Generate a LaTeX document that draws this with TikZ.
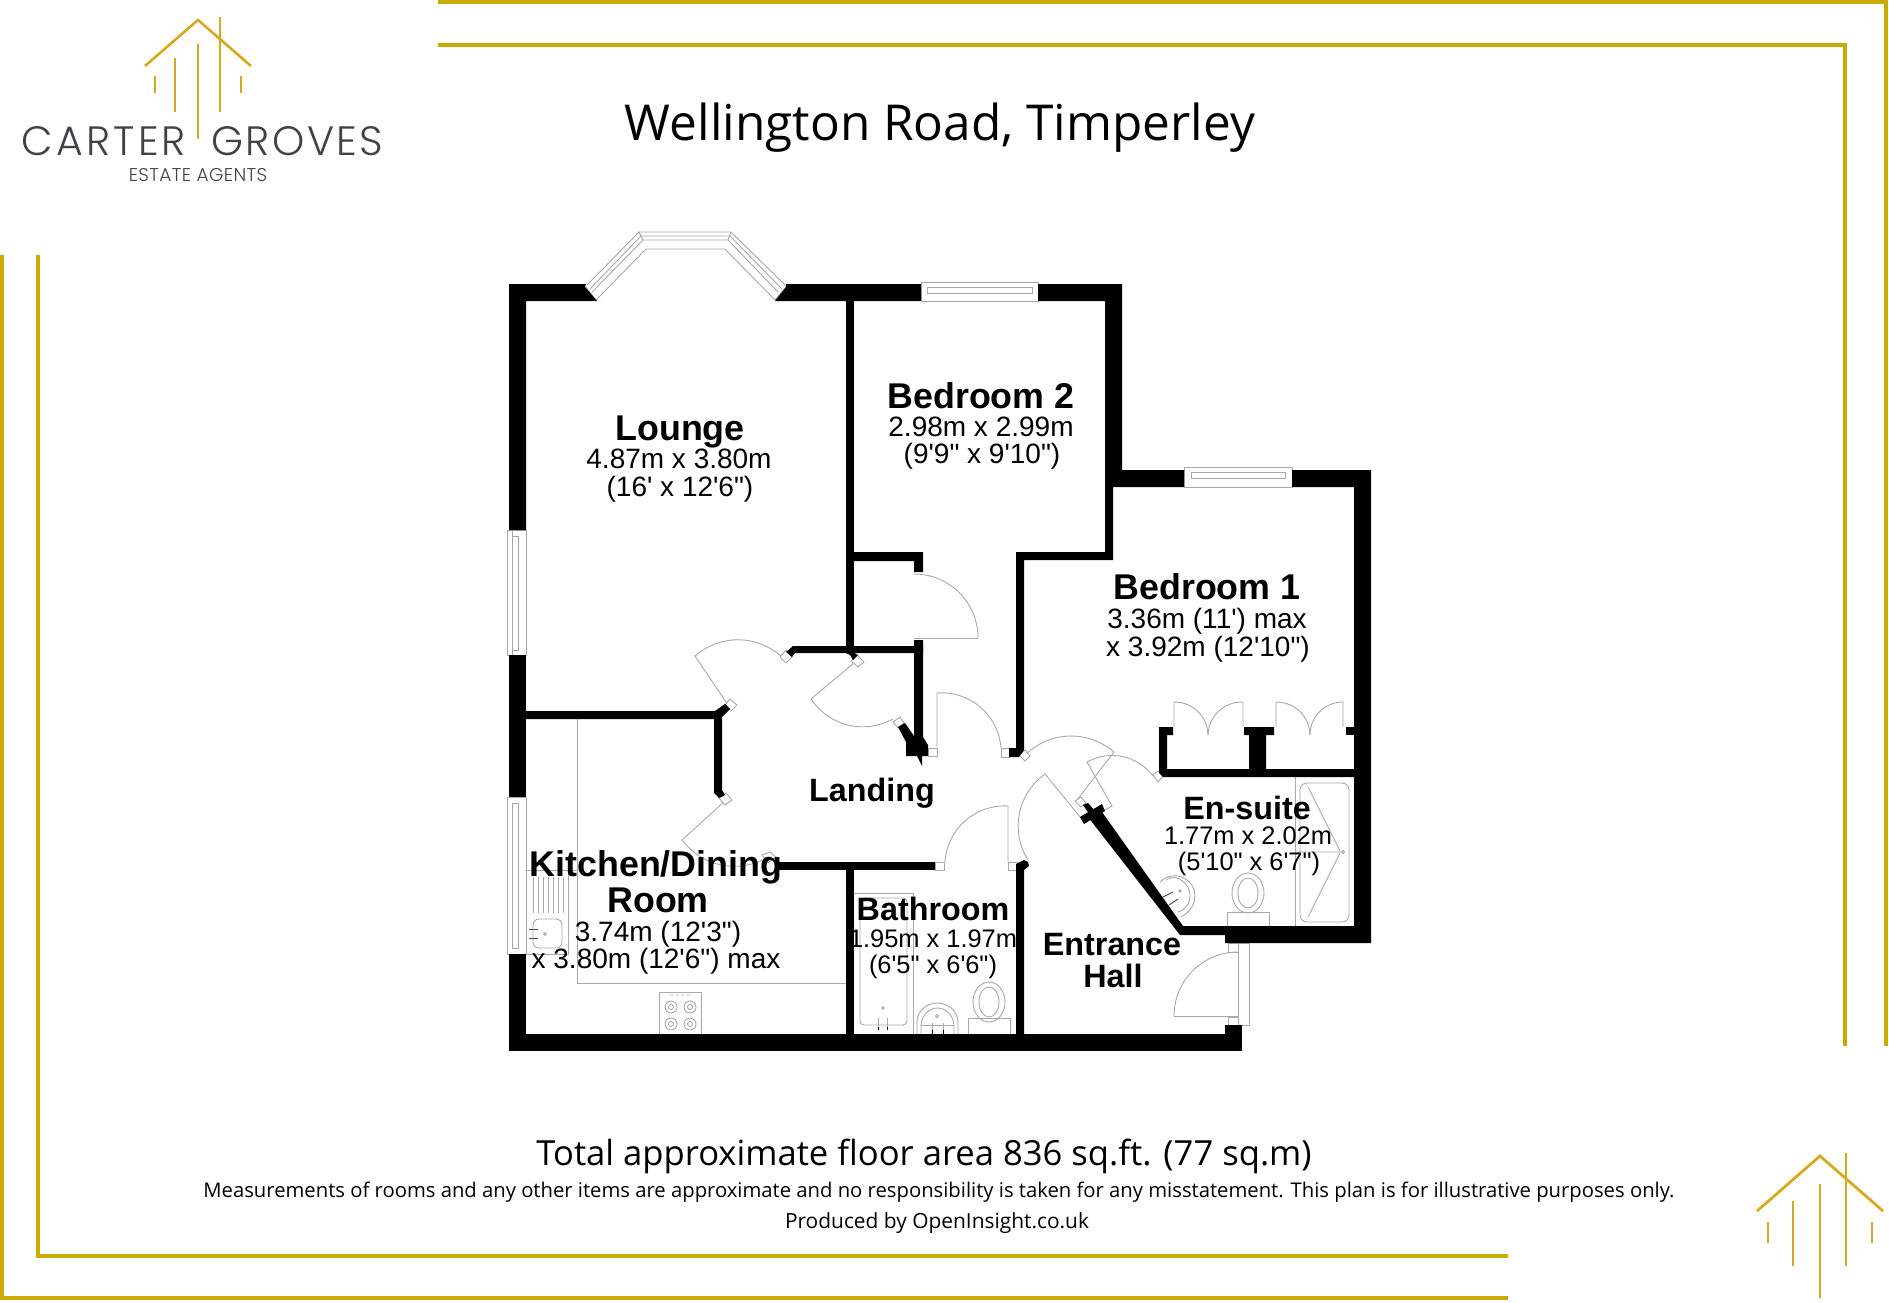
\documentclass[tikz,border=0pt]{standalone}
\usepackage{fontspec}
\newfontfamily\planfont{Liberation Sans}
\newfontfamily\headfont{Open Sans}
\newfontfamily\logofont[LetterSpace=8]{Poppins Light}
\newfontfamily\logofontb[LetterSpace=6]{Poppins Light}
\newfontfamily\logosmall[LetterSpace=2]{Poppins Light}
\definecolor{framegold}{HTML}{C9AB06}
\definecolor{logogold}{HTML}{D6A920}
\definecolor{logotext}{HTML}{414146}
\definecolor{fixture}{HTML}{A8A8A8}
\tikzset{
  frameline/.style={framegold,line width=4.4pt},
  roofline/.style={logogold,line width=2.6pt},
  wall/.style={fill=black,draw=none},
  thin/.style={fixture,line width=0.9pt},
  jamb/.style={thin,fill=white},
  roomname/.style={inner sep=0pt,anchor=base,font=\planfont\bfseries\fontsize{35.8}{36}\selectfont},
  roomdim/.style={inner sep=0pt,anchor=base,font=\planfont\fontsize{28}{28}\selectfont},
  smallname/.style={inner sep=0pt,anchor=base,font=\planfont\bfseries\fontsize{32.3}{33}\selectfont},
  smalldim/.style={inner sep=0pt,anchor=base,font=\planfont\fontsize{25.4}{26}\selectfont},
  foot/.style={inner sep=0pt,anchor=base},
}
\begin{document}
\begin{tikzpicture}[x=1pt,y=-1pt]
\useasboundingbox (0,0) rectangle (1889,1303);
% gold frame
\draw[frameline] (438,2) -- (1886,2) -- (1886,1046);
\draw[frameline] (438,45) -- (1845,45) -- (1845,1046);
\draw[frameline] (2,255) -- (2,1298) -- (1508,1298);
\draw[frameline] (38,255) -- (38,1256) -- (1508,1256);
% logo
\draw[roofline] (145,66) -- (198,20) -- (251,66);
\draw[roofline] (155,76) -- (155,93);
\draw[roofline] (175,58) -- (175,112);
\draw[roofline] (198,44) -- (198,139);
\draw[roofline] (220,17) -- (220,112);
\draw[roofline] (241,76) -- (241,93);
\node[inner sep=0pt,anchor=base west,text=logotext,font=\logofont\fontsize{41}{41}\selectfont] (carter) at (21,155) {CARTER};
\node[inner sep=0pt,anchor=base west,text=logotext,font=\logofontb\fontsize{41}{41}\selectfont] (groves) at (211,155) {GROVES};
\node[inner sep=0pt,anchor=base,text=logotext,font=\logosmall\fontsize{18.5}{19}\selectfont] (estate) at (198,181) {ESTATE AGENTS};
% small logo
\draw[roofline,line width=2.8pt] (1757,1211) -- (1820,1156) -- (1883,1211);
\draw[roofline,line width=2.8pt] (1768,1222) -- (1768,1243);
\draw[roofline,line width=2.8pt] (1793,1201) -- (1793,1266);
\draw[roofline,line width=2.8pt] (1820,1184) -- (1820,1298);
\draw[roofline,line width=2.8pt] (1846,1153) -- (1846,1266);
\draw[roofline,line width=2.8pt] (1872,1222) -- (1872,1243);
% headings
\node[foot,font=\headfont\fontsize{49.5}{50}\selectfont] (title) at (940,140) {Wellington Road, Timperley};
\node[foot,font=\headfont\fontsize{34.6}{35}\selectfont] (total) at (924,1165) {Total approximate floor area 836 sq.ft. (77 sq.m)};
\node[foot,font=\headfont\fontsize{20.25}{21}\selectfont] (disc) at (939,1197) {Measurements of rooms and any other items are approximate and no responsibility is taken for any misstatement. This plan is for illustrative purposes only.};
\node[foot,font=\headfont\fontsize{20.9}{21}\selectfont] (prod) at (937,1228) {Produced by OpenInsight.co.uk};
% bay window
\draw[thin] (587,285) -- (639,232) -- (731,232) -- (786,286);
\draw[thin] (590,289) -- (641,236) -- (730,236) -- (782,289);
\draw[thin] (592,292) -- (643,240) -- (728,240) -- (778,292);
\draw[thin] (596,300) -- (646,249) -- (725,249) -- (775,300);
\draw[thin] (586,287) -- (596,300) (786,287) -- (775,300);
\draw[thin] (639,232) -- (643,240) (731,232) -- (728,240);
% flat windows
\draw[thin] (507,530) rectangle (526,655);
\draw[thin] (512,536) rectangle (518,650);
\draw[thin] (507,530) -- (507,655) (512,530) -- (512,655);
\draw[thin] (507,797) rectangle (526,954);
\draw[thin] (512,803) rectangle (518,948);
\draw[thin] (921,282) rectangle (1038,301);
\draw[thin] (927,287) rectangle (1032,293);
\draw[thin] (1184,467) rectangle (1292,487);
\draw[thin] (1191,472) rectangle (1285,478);
\draw[thin] (1238,943) rectangle (1249,1025);
\draw[jamb] (1228,943) rectangle (1238,952);
\draw[jamb] (1228,1017) rectangle (1238,1025);
% kitchen fittings
\draw[thin] (577,719) -- (577,983) -- (846,983);
\draw[thin] (526,870) -- (577,870);
\draw[thin] (568,870) -- (568,954) -- (526,954);
\foreach \lx in {533,538,543,548,553,558,563} \draw[thin] (\lx,877) -- (\lx,913);
\draw[thin,rounded corners=6pt] (533,919) rectangle (562,948);
\draw[black!70,line width=1pt] (529,929) -- (538,929) (529,938) -- (538,938);
\draw[thin] (545,934) circle (1.5);
\draw[thin] (659,1034) -- (659,992) -- (701,992) -- (701,1034);
\foreach \bx/\by in {671/1007,690/1007,671/1024,690/1024} {
  \draw[thin] (\bx,\by) circle (6);
  \draw[thin] (\bx,\by) circle (2.5);
}
\foreach \dx in {672,677,683,688} \fill[fixture] (\dx,995) circle (0.9);
% bathroom fittings
\draw[thin] (854,893) -- (913,893) -- (913,1034);
\draw[thin,rounded corners=4pt] (860,1025) -- (860,898) -- (907,898) -- (907,1025) -- cycle;
\draw[thin] (883,1008) circle (1.5);
\draw[thin] (878,1018) -- (878,1027) (887,1018) -- (887,1027);
\draw[black,line width=1pt] (878,1027) -- (878,1030) (887,1027) -- (887,1030);
\draw[thin] (917,1034) -- (917,1022) .. controls (917,1010) and (928,1003) .. (937,1003) .. controls (947,1003) and (958,1010) .. (958,1022) -- (958,1034);
\draw[thin] (921,1034) -- (921,1025) .. controls (922,1014) and (930,1008) .. (937,1008) .. controls (945,1008) and (953,1014) .. (954,1025) -- (954,1034);
\draw[thin] (921,1025) -- (954,1025);
\draw[thin] (932,1023) -- (932,1030) (943,1023) -- (943,1030);
\draw[black,line width=1pt] (932,1030) -- (932,1034) (943,1030) -- (943,1034);
\draw[thin] (937,1016) circle (1.5);
\draw[thin] (968,1034) -- (968,1018) -- (1010,1018) -- (1010,1034);
\draw[thin] (989,1002) ellipse (16 and 20);
\draw[thin] (989,1002) ellipse (10 and 15);
% en-suite fittings
\draw[thin] (1227,926) -- (1227,912) -- (1269,912) -- (1269,926);
\draw[thin] (1248,893) ellipse (16 and 20);
\draw[thin] (1248,893) ellipse (10 and 15);
\draw[thin] (1295,777) -- (1295,926);
\draw[thin,rounded corners=7pt] (1300,783) rectangle (1349,922);
\draw[thin] (1308,787) -- (1340,851) (1340,853) -- (1308,917) (1295,852) -- (1341,852);
\draw[thin] (1343,852) circle (1.6);
\draw[thin] (1160,882) .. controls (1175,868) and (1195,880) .. (1195,895) .. controls (1195,905) and (1190,912) .. (1181,917);
\draw[thin] (1166,880) .. controls (1178,872) and (1190,885) .. (1190,895) .. controls (1190,903) and (1186,910) .. (1178,912);
\draw[thin] (1180,891) circle (1.3);
\draw[black!70,line width=1pt] (1163,897) -- (1173,892) (1169,905) -- (1178,899);
% doors
\draw[thin] (914,638) -- (978,638);
\draw[thin] (914,574) to[bend left=45] (978,638);
\draw[thin] (730,708) -- (695,656) to[bend left=41] (782,657);
\draw[thin] (855,662) -- (811,699);
\draw[thin] (893,719) to[bend left=42] (811,699);
\draw[thin] (937,747) -- (937,693) to[bend left=45] (1001,748);
\draw[thin] (945,862) to[bend left=45] (1008,806) -- (1008,862);
\draw[thin] (726,800) -- (682,840);
\draw[thin] (770,856) to[bend left=42] (682,840);
\draw[thin] (1028,860) to[bend left=43] (1045,774) -- (1085,823);
\draw[thin] (1025,755) to[bend left=42] (1114,752) -- (1077,800);
\draw[thin] (1153,776) to[bend right=40] (1087,762) -- (1112,806) -- (1102,812);
\draw[thin] (1174,727) -- (1174,702) to[bend left=45] (1208,735);
\draw[thin] (1243,727) -- (1243,702) to[bend right=45] (1208,735);
\draw[thin] (1276,727) -- (1276,702) to[bend left=45] (1310,735);
\draw[thin] (1343,727) -- (1343,702) to[bend right=45] (1310,735);
\draw[thin] (1174,1016) to[bend left=45] (1238,952);
\draw[thin] (1174,1016) -- (1238,1016);
% door jambs
\draw[jamb] (730,699) -- (737,705) -- (731,711) -- (725,705) -- cycle;
\draw[jamb] (786,650) -- (792,657) -- (786,663) -- (780,657) -- cycle;
\draw[jamb] (857,655) -- (864,662) -- (858,667) -- (851,661) -- cycle;
\draw[jamb] (893,722) -- (900,717) -- (904,723) -- (898,728) -- cycle;
\draw[jamb] (928,748) rectangle (937,756);
\draw[jamb] (1001,748) rectangle (1009,757);
\draw[jamb] (719,798) -- (726,793) -- (732,800) -- (725,805) -- cycle;
\draw[jamb] (935,862) rectangle (944,870);
\draw[jamb] (762,855) -- (770,852) -- (776,857) -- (768,863) -- cycle;
\draw[jamb] (1008,862) rectangle (1017,870);
\draw[jamb] (1019,755) -- (1025,750) -- (1030,756) -- (1025,761) -- cycle;
\draw[jamb] (1075,801) -- (1081,797) -- (1086,803) -- (1081,807) -- cycle;
\draw[jamb] (1153,775) -- (1158,771) -- (1163,776) -- (1158,782) -- cycle;
% walls
\fill[wall] (509,284) -- (586,284) -- (585,287) -- (597,301) -- (526,301) -- (526,530) -- (509,530) -- cycle;
\fill[wall] (786,284) -- (921,284) -- (921,301) -- (775,301) -- (786,287) -- cycle;
\fill[wall] (1038,284) -- (1122,284) -- (1122,470) -- (1184,470) -- (1184,487) -- (1113,487) -- (1113,560) -- (1024,560) -- (1024,750) -- (1019,757) -- (1009,757) -- (1009,748) -- (1016,748) -- (1016,552) -- (1105,552) -- (1105,301) -- (1038,301) -- cycle;
\fill[wall] (1292,470) -- (1371,470) -- (1371,943) -- (1225,943) -- (1225,935) -- (1180,935) -- (1088,817) -- (1102,812) -- (1183,926) -- (1354,926) -- (1354,487) -- (1292,487) -- cycle;
\fill[wall] (1080,817) -- (1102,804) -- (1105,811) -- (1084,824) -- cycle;
\fill[wall] (1083,805) -- (1088,803) -- (1096,812) -- (1090,815) -- cycle;
\fill[wall] (1159,727) -- (1173,727) -- (1173,735) -- (1167,735) -- (1167,769) -- (1249,769) -- (1249,735) -- (1244,735) -- (1244,727) -- (1274,727) -- (1274,735) -- (1266,735) -- (1266,769) -- (1354,769) -- (1354,777) -- (1163,777) -- (1159,773) -- cycle;
\fill[wall] (1346,727) rectangle (1354,735);
\fill[wall] (509,655) rectangle (526,797);
\fill[wall] (509,954) rectangle (526,1051);
\fill[wall] (509,1034) rectangle (1242,1051);
\fill[wall] (1225,1025) rectangle (1242,1034);
\fill[wall] (526,711) -- (715,711) -- (725,704) -- (730,709) -- (722,717) -- (722,790) -- (725,795) -- (719,798) -- (714,793) -- (714,719) -- (526,719) -- cycle;
\fill[wall] (846,301) rectangle (854,646);
\fill[wall] (793,646) -- (923,646) -- (923,653) -- (854,653) -- (858,655) -- (853,660) -- (850,655) -- (846,653) -- (795,653) -- (792,657) -- (786,652) -- cycle;
\fill[wall] (854,552) -- (923,552) -- (923,572) -- (914,572) -- (914,561) -- (854,561) -- cycle;
\fill[wall] (914,640) -- (923,640) -- (923,737) -- (928,745) -- (928,756) -- (922,756) -- (922,766) -- (917,756) -- (906,756) -- (906,742) -- (898,727) -- (905,723) -- (914,736) -- cycle;
\fill[wall] (777,862) rectangle (935,870);
\fill[wall] (846,870) rectangle (854,1034);
\fill[wall] (1016,864) -- (1024,860) -- (1028,862) -- (1029,866) -- (1024,870) -- (1024,1034) -- (1016,1034) -- cycle;
% labels
\node[roomname] (lounge) at (680,440) {Lounge};
\node[roomdim] (loungeA) at (679,468) {4.87m x 3.80m};
\node[roomdim] (loungeB) at (680,496) {(16' x 12'6")};
\node[roomname] (bedtwo) at (981,408) {Bedroom 2};
\node[roomdim] (bedtwoA) at (981,436) {2.98m x 2.99m};
\node[roomdim] (bedtwoB) at (982,463) {(9'9" x 9'10")};
\node[roomname] (bedone) at (1207,599) {Bedroom 1};
\node[roomdim] (bedoneA) at (1207,628) {3.36m (11') max};
\node[roomdim] (bedoneB) at (1208,656) {x 3.92m (12'10")};
\node[roomname] (kitchen) at (656,876) {Kitchen/Dining};
\node[roomname] (kitchenR) at (658,912) {Room};
\node[roomdim] (kitchenA) at (658,941) {3.74m (12'3")};
\node[roomdim] (kitchenB) at (656,968) {x 3.80m (12'6") max};
\node[smallname] (landing) at (872,801) {Landing};
\node[smallname] (bath) at (933,920) {Bathroom};
\node[smalldim] (bathA) at (933,947) {1.95m x 1.97m};
\node[smalldim] (bathB) at (933,973) {(6'5" x 6'6")};
\node[smallname] (ensuite) at (1247,819) {En-suite};
\node[smalldim] (ensuiteA) at (1248,844) {1.77m x 2.02m};
\node[smalldim] (ensuiteB) at (1249,870) {(5'10" x 6'7")};
\node[smallname] (entrance) at (1112,955) {Entrance};
\node[smallname] (hall) at (1113,987) {Hall};
\end{tikzpicture}
\end{document}
